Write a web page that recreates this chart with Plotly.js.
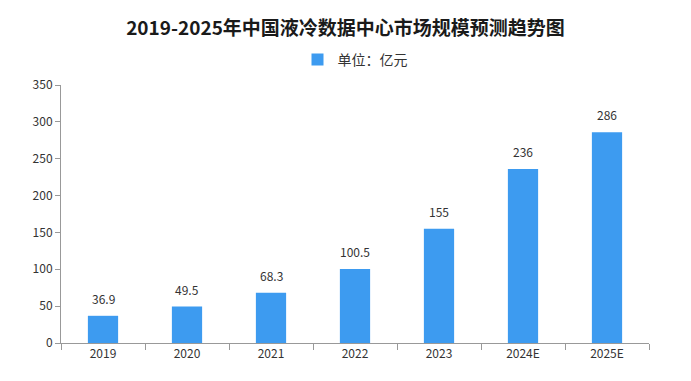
<!DOCTYPE html>
<html><head><meta charset="utf-8">
<script src="https://cdn.plot.ly/plotly-3.0.1.min.js"></script>
<style>body{margin:0;background:#fff}#c{width:691px;height:381px}</style>
</head><body><div id="c"></div>
<script>
const categories = ["2019","2020","2021","2022","2023","2024E","2025E"];
const values = [36.9, 49.5, 68.3, 100.5, 155, 236, 286];
const labels = ["36.9","49.5","68.3","100.5","155","236","286"];
const yTicks = [0,50,100,150,200,250,300,350];

const font = "'Noto Sans CJK SC', 'DejaVu Sans', sans-serif";
const annotations = categories.map((c, i) => ({
  x: i, xref: 'x', y: values[i], yref: 'y', text: labels[i], showarrow: false, yanchor: 'bottom', yshift: 7,
  font: {family: font, size: 12, color: '#333'}
}));
Plotly.newPlot('c', [{
  type: 'bar', x: categories, y: values, name: '单位：亿元',
  marker: {color: '#3D9BF0'}, width: 0.36
}], {
  width: 691, height: 381,
  margin: {l: 61, r: 42, t: 85, b: 38},
  paper_bgcolor: '#fff', plot_bgcolor: '#fff',
  annotations: annotations,
  title: {text: '<b>2019-2025年中国液冷数据中心市场规模预测趋势图</b>', x: 0.5, xanchor: 'center', y: 0.925, yanchor: 'middle',
    font: {family: font, size: 19, color: '#1a1a1a'}},
  showlegend: true,
  legend: {orientation: 'h', x: 0.5, xanchor: 'center', y: 1.097, yanchor: 'middle',
    font: {family: font, size: 14, color: '#333'}},
  xaxis: {type: 'category', categoryarray: categories, range: [-0.5, categories.length - 0.5],
    showline: true, linecolor: '#999', linewidth: 1, ticks: 'outside', tickson: 'boundaries',
    ticklen: 6, tickcolor: '#999', showgrid: false, zeroline: false,
    tickfont: {family: font, size: 12, color: '#333'}},
  yaxis: {range: [0, 350], tickvals: yTicks, showline: true, linecolor: '#999', linewidth: 1, ticks: 'outside',
    ticklen: 5, tickcolor: '#999', showgrid: false, zeroline: false,
    tickfont: {family: font, size: 12, color: '#333'}}
}, {displayModeBar: false, staticPlot: true});
</script></body></html>
